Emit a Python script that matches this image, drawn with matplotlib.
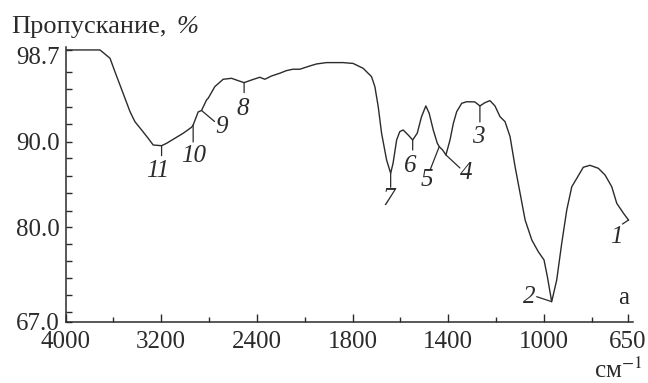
import numpy as np
import matplotlib
matplotlib.use('Agg')
import matplotlib.pyplot as plt
from matplotlib.transforms import ScaledTranslation

# ── DATA ──
wavenumber = [4000, 3879, 3712, 3684, 3628, 3587, 3545, 3503, 3461, 3420,
              3364, 3309, 3267, 3197, 3155, 3086, 3016, 2946, 2933, 2891,
              2863, 2821, 2807, 2752, 2682, 2612, 2557, 2507, 2445, 2376,
              2334, 2278, 2209, 2153, 2100, 2042, 1979, 1951, 1909, 1840,
              1798, 1756, 1721, 1707, 1693, 1679, 1658, 1641, 1631, 1616,
              1603, 1589, 1568, 1549, 1530, 1512, 1494, 1480, 1463, 1446,
              1438, 1424, 1410, 1393, 1379, 1365, 1344, 1323, 1289, 1268,
              1247, 1226, 1205, 1184, 1163, 1142, 1121, 1100, 1079, 1051,
              1024, 1000, 986, 968, 947, 926, 905, 884, 863, 836,
              808, 773, 745, 717, 696, 668, 647]
transmittance = [98.70, 98.70, 98.70, 98.44, 97.91, 96.64, 95.38, 94.12, 92.85, 91.90,
                 91.11, 90.32, 89.61, 89.53, 89.81, 90.32, 90.80, 91.37, 91.58, 92.82,
                 92.96, 93.96, 94.12, 95.22, 95.92, 96.01, 95.79, 95.60, 95.85, 96.11,
                 95.92, 96.23, 96.49, 96.74, 96.87, 96.87, 97.18, 97.37, 97.50, 97.50,
                 97.42, 96.96, 96.17, 95.22, 93.32, 90.80, 87.86, 86.31, 87.48, 90.16,
                 90.95, 91.11, 90.64, 90.16, 90.80, 92.37, 93.39, 92.69, 91.11, 89.81,
                 89.42, 89.03, 88.45, 90.16, 91.74, 92.85, 93.64, 93.79, 93.77, 93.39,
                 93.70, 93.89, 93.39, 92.37, 91.90, 90.48, 87.08, 83.97, 80.85, 78.25,
                 76.64, 75.50, 73.20, 69.76, 72.74, 77.80, 82.02, 84.74, 85.72, 87.01,
                 87.24, 86.89, 86.11, 84.74, 82.80, 81.64, 80.85]

band_labels = ['11', '10', '9', '8', '7', '6', '5', '4', '3', '2', '1']
band_positions = [3197, 2933, 2863, 2507, 1641, 1549, 1438, 1410, 1268, 968, 647]

x_major = [4000, 3200, 2400, 1800, 1400, 1000, 650]
x_minor = [3600, 2800, 2000, 1600, 1200, 800]
y_major = [67.0, 80.0, 90.0, 98.7]
y_major_labels = ['67.0', '80.0', '90.0', '98.7']
y_minor = [68.3, 70.7, 73.0, 75.3, 77.7, 81.9, 84.0, 86.0, 88.1,
           91.65, 93.3, 95.0, 96.6]

# ── STYLE ──
plt.rcParams['font.family'] = ['Liberation Serif', 'DejaVu Serif']
plt.rcParams['mathtext.fontset'] = 'stix'
INK = '#2b2b2b'
FS = 18

# ── SCALES: x compressed above 2000 cm-1, y piecewise like the printed axis ──
def x_fwd(v):
    v = np.asarray(v, dtype=float)
    return np.where(v >= 2000, v, 2 * v - 2000)

def x_inv(t):
    t = np.asarray(t, dtype=float)
    return np.where(t >= 2000, t, (t + 2000) / 2)

y_nodes_v = [50, 67, 80, 90, 98.7, 110]
y_nodes_d = [-123.4, 0, 94.4, 180.0, 271.7, 390.8]

def y_fwd(v):
    return np.interp(np.asarray(v, dtype=float), y_nodes_v, y_nodes_d)

def y_inv(d):
    return np.interp(np.asarray(d, dtype=float), y_nodes_d, y_nodes_v)

fig = plt.figure(figsize=(6.48, 3.83), dpi=100)
ax = fig.add_axes([0.1011, 0.160, 0.8758, 0.7173])
ax.set_xscale('function', functions=(x_fwd, x_inv))
ax.set_yscale('function', functions=(y_fwd, y_inv))

ax.plot(wavenumber, transmittance, color=INK, lw=1.0)
ax.set_xlim(4000, 628)
ax.set_ylim(67.0, 98.98)

for s in ['top', 'right']:
    ax.spines[s].set_visible(False)
for s in ['left', 'bottom']:
    ax.spines[s].set_linewidth(1.1)
    ax.spines[s].set_color(INK)

ax.set_xticks(x_major)
ax.set_xticklabels([str(v) for v in x_major])
ax.set_xticks(x_minor, minor=True)
ax.set_yticks(y_major)
ax.set_yticklabels(y_major_labels)
ax.set_yticks(y_minor, minor=True)
ax.tick_params(axis='both', which='both', direction='in', color=INK,
               labelsize=FS, labelcolor=INK, width=1.0)
ax.tick_params(axis='x', which='major', length=5.8, pad=7)
ax.tick_params(axis='x', which='minor', length=3.6)
ax.tick_params(axis='y', which='major', length=4.5, pad=4)
ax.tick_params(axis='y', which='minor', length=4.0)

# 98.7 sits a little lower than its tick in the reference
for lab in ax.get_yticklabels():
    if lab.get_text() == '98.7':
        lab.set_transform(lab.get_transform() +
                          ScaledTranslation(0, -6 / 100, fig.dpi_scale_trans))

# ── BAND MARKS: (tick end offset, label offset) in pixels ──
mark_offsets = {
    '11': ((0, -10), (-4, -25)),
    '10': ((0, -17), (0, -31)),
    '9': ((13, -11), (20, -17)),
    '8': ((0, -10), (-1, -26)),
    '7': ((0, -14), (-2, -26)),
    '6': ((0, -10), (-2, -26)),
    '5': ((-9, -23), (-12, -33)),
    '4': ((14, -13), (20, -18)),
    '3': ((0, -16), (-2, -31)),
    '2': ((-15, 5), (-22, 5)),
    '1': ((-6, -4), (-12, -17)),
}
wn_asc = wavenumber[::-1]
tr_asc = transmittance[::-1]
for lab, pos in zip(band_labels, band_positions):
    yv = np.interp(pos, wn_asc, tr_asc)
    (lx, ly), (tx, ty) = mark_offsets[lab]
    ax.annotate('', xy=(pos, yv), xytext=(lx, ly), textcoords='offset pixels',
                arrowprops=dict(arrowstyle='-', color=INK, lw=0.9,
                                shrinkA=0, shrinkB=0))
    ax.annotate(lab, xy=(pos, yv), xytext=(tx, ty), textcoords='offset pixels',
                ha='center', va='center', fontsize=FS, style='italic', color=INK)

ax.text(0.983, 0.085, 'a', transform=ax.transAxes, ha='center', va='center',
        fontsize=FS, color=INK)

fig.text(11 / 648, 1 - 33.3 / 383, 'Пропускание,', ha='left', va='baseline',
         fontsize=19, color=INK)
fig.text(177 / 648, 1 - 33.3 / 383, '%', ha='left', va='baseline',
         fontsize=19, color=INK, style='italic')
fig.text(618 / 648, 5 / 383, 'см$^{-1}$', ha='center', va='baseline',
         fontsize=FS, color=INK)

fig.savefig('out.png', dpi=100)
